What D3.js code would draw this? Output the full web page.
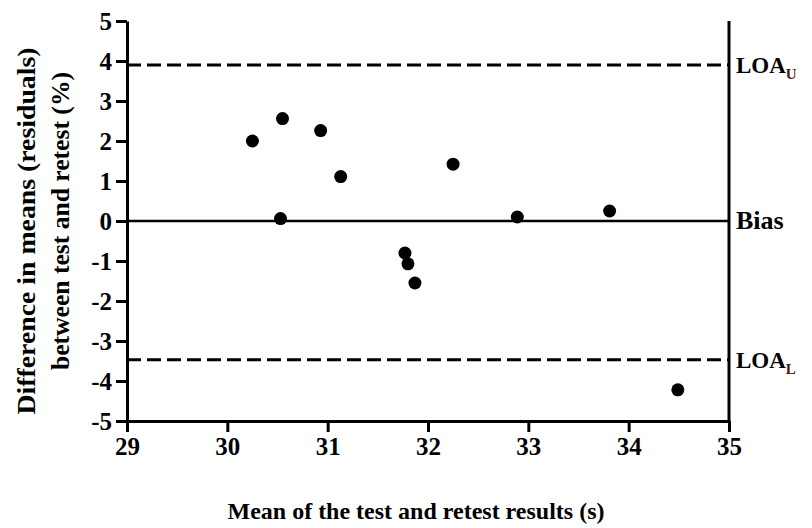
<!DOCTYPE html>
<html>
<head>
<meta charset="utf-8">
<script src="https://cdn.jsdelivr.net/npm/d3@7"></script>
<style>
  body { margin: 0; background: #fff; }
  text { font-family: "Liberation Serif", "Times New Roman", serif; font-weight: bold; fill: #000; }
</style>
</head>
<body>
<script>
// mean of test/retest (s) and difference (%)
var meanVals = [30.25, 30.55, 30.93, 31.13, 32.25, 30.53, 31.77, 31.80, 31.87, 32.89, 33.81, 34.49];
var diffVals = [2.0, 2.56, 2.26, 1.11, 1.42, 0.06, -0.8, -1.07, -1.55, 0.1, 0.25, -4.22];

var xTicks = [29, 30, 31, 32, 33, 34, 35];
var yTicks = [5, 4, 3, 2, 1, 0, -1, -2, -3, -4, -5];

var bias = 0,
    loaU = 3.9,
    loaL = -3.47;

var w = 812,
    h = 528;

var x = d3.scaleLinear().domain([29, 35]).range([127, 729]);
var y = d3.scaleLinear().domain([-5, 5]).range([421, 21]);

var svg = d3.select("body").append("svg")
    .attr("width", w)
    .attr("height", h);

// reference lines
var refs = [
    { v: loaU, dash: "14,6", label: "LOA", sub: "U", fs: 23 },
    { v: bias, dash: null, label: "Bias", sub: null, fs: 26 },
    { v: loaL, dash: "14,6", label: "LOA", sub: "L", fs: 23 }
];

svg.selectAll("line.ref")
    .data(refs)
    .enter().append("line")
    .attr("class", "ref")
    .attr("x1", x(29))
    .attr("x2", x(35))
    .attr("y1", function (d) { return y(d.v); })
    .attr("y2", function (d) { return y(d.v); })
    .attr("stroke", "#000")
    .attr("stroke-width", function (d) { return d.dash ? 3 : 2.5; })
    .attr("stroke-dasharray", function (d) { return d.dash; });

var lab = svg.selectAll("text.reflab")
    .data(refs)
    .enter().append("text")
    .attr("class", "reflab")
    .attr("x", x(35) + 7)
    .attr("y", function (d) { return y(d.v) + 8; })
    .style("font-size", function (d) { return d.fs + "px"; })
    .text(function (d) { return d.label; });

lab.filter(function (d) { return d.sub; })
    .append("tspan")
    .attr("dy", 6)
    .style("font-size", "15px")
    .style("fill", "#5a1010")
    .text(function (d) { return d.sub; });

// axes
var yAxis = d3.axisLeft(y)
    .tickValues(yTicks)
    .tickSize(11)
    .tickSizeOuter(0)
    .tickPadding(4)
    .tickFormat(function (d) { return String(d); });

var xAxis = d3.axisBottom(x)
    .tickValues(xTicks)
    .tickSize(11)
    .tickSizeOuter(0)
    .tickPadding(5)
    .tickFormat(function (d) { return String(d); });

var gy = svg.append("g")
    .attr("transform", "translate(" + x(29) + ",0)")
    .call(yAxis);

var gx = svg.append("g")
    .attr("transform", "translate(0," + y(-5) + ")")
    .call(xAxis);

[gx, gy].forEach(function (g) {
    g.select(".domain").attr("stroke-width", 3);
    g.selectAll(".tick line").attr("stroke-width", 3);
    g.selectAll(".tick text")
        .attr("font-family", null)
        .attr("font-size", null)
        .style("font-size", "25px");
});

// right frame line
svg.append("line")
    .attr("x1", x(35)).attr("x2", x(35))
    .attr("y1", y(5)).attr("y2", y(-5))
    .attr("stroke", "#000")
    .attr("stroke-width", 3);

// points
svg.selectAll("circle")
    .data(meanVals)
    .enter().append("circle")
    .attr("cx", function (d) { return x(d); })
    .attr("cy", function (d, i) { return y(diffVals[i]); })
    .attr("r", 6.5)
    .attr("fill", "#000");

// axis titles
svg.append("text")
    .attr("x", 416)
    .attr("y", 519)
    .attr("text-anchor", "middle")
    .attr("textLength", 377)
    .attr("lengthAdjust", "spacingAndGlyphs")
    .style("font-size", "24px")
    .text("Mean of the test and retest results (s)");

var yt = svg.append("text")
    .attr("transform", "translate(0," + y(0) + ") rotate(-90)")
    .attr("text-anchor", "middle")
    .style("font-size", "26px");

yt.append("tspan").attr("x", -10).attr("y", 35)
    .attr("textLength", 367).attr("lengthAdjust", "spacingAndGlyphs")
    .text("Difference in means (residuals)");
yt.append("tspan").attr("x", 0).attr("y", 69)
    .attr("textLength", 298).attr("lengthAdjust", "spacingAndGlyphs")
    .text("between test and retest (%)");
</script>
</body>
</html>
